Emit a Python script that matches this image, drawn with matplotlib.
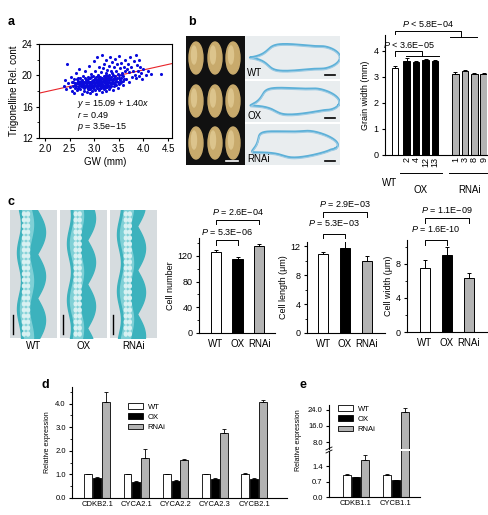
import numpy as np
import matplotlib
matplotlib.use('Agg')
import matplotlib.pyplot as plt
from matplotlib.patches import Ellipse, Rectangle, Patch

plt.rcParams['font.family'] = ['Liberation Sans', 'DejaVu Sans']
plt.rcParams['mathtext.fontset'] = 'custom'
plt.rcParams['mathtext.rm'] = 'Liberation Sans'
plt.rcParams['mathtext.it'] = 'Liberation Sans:italic'
plt.rcParams['font.size'] = 6.5
plt.rcParams['axes.linewidth'] = 0.8
plt.rcParams['xtick.major.width'] = 0.8
plt.rcParams['ytick.major.width'] = 0.8
plt.rcParams['xtick.major.size'] = 2.5
plt.rcParams['ytick.major.size'] = 2.5
plt.rcParams['ytick.minor.size'] = 1.5
plt.rcParams['xtick.major.pad'] = 2
plt.rcParams['ytick.major.pad'] = 2

# ---------------- data ----------------
# a: GW vs trigonelline
gw_mm = [2.38, 2.40, 2.42, 2.45, 2.47, 2.50, 2.52, 2.55, 2.56, 2.58,
         2.60, 2.60, 2.62, 2.63, 2.65, 2.66, 2.68, 2.70, 2.70, 2.72,
         2.73, 2.75, 2.75, 2.77, 2.78, 2.80, 2.80, 2.82, 2.83, 2.84,
         2.85, 2.86, 2.87, 2.88, 2.89, 2.90, 2.90, 2.91, 2.92, 2.93,
         2.94, 2.95, 2.95, 2.96, 2.97, 2.98, 2.99, 3.00, 3.00, 3.01,
         3.02, 3.03, 3.04, 3.05, 3.05, 3.06, 3.07, 3.08, 3.09, 3.10,
         3.10, 3.11, 3.12, 3.13, 3.14, 3.15, 3.15, 3.16, 3.17, 3.18,
         3.19, 3.20, 3.20, 3.21, 3.22, 3.23, 3.24, 3.25, 3.25, 3.26,
         3.27, 3.28, 3.29, 3.30, 3.30, 3.31, 3.32, 3.33, 3.34, 3.35,
         3.35, 3.36, 3.37, 3.38, 3.39, 3.40, 3.40, 3.42, 3.43, 3.44,
         3.45, 3.46, 3.48, 3.49, 3.50, 3.50, 3.52, 3.53, 3.55, 3.56,
         3.58, 3.59, 3.60, 3.62, 3.63, 3.65, 3.66, 3.68, 3.70, 3.71,
         3.73, 3.75, 3.76, 3.78, 3.80, 3.82, 3.84, 3.85, 3.87, 3.88,
         3.90, 3.92, 3.94, 3.96, 3.98, 4.00, 4.05, 4.10, 4.15, 4.36,
         2.62, 2.64, 2.67, 2.69, 2.71, 2.74, 2.76, 2.79, 2.81, 2.82,
         2.84, 2.86, 2.87, 2.88, 2.90, 2.92, 2.93, 2.94, 2.96, 2.97,
         2.98, 3.00, 3.01, 3.02, 3.03, 3.04, 3.06, 3.07, 3.08, 3.09,
         3.10, 3.11, 3.12, 3.13, 3.14, 3.16, 3.17, 3.18, 3.19, 3.21,
         3.22, 3.23, 3.24, 3.26, 3.27, 3.28, 3.30, 3.31, 3.32, 3.34,
         3.36, 3.37, 3.38, 3.40, 3.41, 3.43, 3.45, 3.47, 3.50, 3.52,
         3.55, 3.57, 3.60,
         2.58, 2.61, 2.65, 2.68, 2.72, 2.73, 2.77, 2.78, 2.80, 2.83,
         2.85, 2.89, 2.91, 2.92, 2.95, 2.97, 2.99, 3.00, 3.02, 3.04,
         3.05, 3.06, 3.08, 3.09, 3.11, 3.12, 3.13, 3.15, 3.16, 3.18,
         3.20, 3.21, 3.23, 3.24, 3.25, 3.27, 3.29, 3.31, 3.33, 3.35,
         3.38, 3.42, 3.44, 3.48, 3.51, 3.54, 3.58]
trig_cont = [18.6, 19.4, 18.2, 21.5, 19.0, 18.5, 19.8, 18.0, 19.2, 18.7,
             19.5, 17.8, 18.4, 20.3, 19.0, 18.1, 19.7, 18.6, 20.8, 18.3,
             19.3, 17.6, 18.9, 19.9, 18.5, 19.1, 18.0, 20.5, 18.7, 19.4,
             17.9, 18.8, 19.8, 18.4, 21.2, 19.0, 18.2, 19.6, 17.7, 18.9,
             20.2, 18.5, 19.3, 18.0, 19.9, 18.7, 21.8, 19.1, 18.3, 20.6,
             18.8, 19.5, 17.6, 19.0, 22.3, 18.4, 20.0, 18.9, 19.7, 18.1,
             21.0, 19.3, 18.6, 20.4, 19.0, 17.9, 22.6, 19.6, 18.5, 20.9,
             19.2, 18.2, 21.5, 19.8, 18.8, 20.3, 19.4, 18.0, 22.0, 19.1,
             20.7, 18.6, 19.7, 21.2, 18.3, 20.1, 19.0, 22.4, 19.5, 18.7,
             20.6, 21.7, 19.2, 18.1, 20.0, 21.0, 19.6, 22.1, 18.9, 20.5,
             19.3, 21.4, 18.4, 20.2, 19.7, 22.5, 20.9, 19.0, 21.6, 20.3,
             18.8, 19.9, 21.1, 20.6, 22.0, 19.5, 20.8, 21.5, 19.2, 20.4,
             22.3, 21.0, 19.8, 20.6, 21.8, 20.1, 22.6, 19.6, 21.3, 20.5,
             22.0, 19.9, 21.0, 20.3, 19.5, 20.8, 20.0, 20.6, 20.2, 20.2,
             19.0, 18.6, 19.3, 18.9, 19.1, 18.7, 19.4, 18.8, 19.6, 18.5,
             19.0, 19.3, 18.3, 19.5, 18.7, 19.2, 18.5, 19.8, 19.0, 18.4,
             19.4, 18.8, 19.6, 18.1, 19.2, 18.6, 19.4, 18.9, 19.9, 18.3,
             19.5, 18.8, 19.1, 18.4, 19.7, 18.9, 19.3, 18.6, 19.9, 19.0,
             18.4, 19.6, 18.9, 19.4, 18.5, 19.9, 19.2, 18.7, 19.6, 18.9,
             19.4, 20.3, 19.0, 18.6, 19.5, 19.9, 18.8, 19.6, 18.9, 19.4,
             19.2, 20.0, 19.5,
             19.1, 18.8, 19.5, 18.4, 19.6, 18.9, 18.6, 19.2, 18.4, 19.2,
             18.6, 19.1, 18.9, 18.3, 18.8, 19.3, 18.6, 19.4, 19.0, 19.8,
             18.5, 18.7, 19.3, 19.0, 18.6, 19.8, 19.3, 18.8, 19.1, 19.5,
             18.7, 19.4, 18.8, 20.0, 19.3, 19.0, 18.8, 19.4, 18.5, 19.8,
             19.4, 19.1, 19.5, 19.2, 20.1, 19.6, 19.3]
fit_a, fit_b = 15.09, 1.40

# b: grain width
gw_labels = ['WT', '2', '4', '12', '13', '1', '3', '8', '9']
gw_pos = [0, 1.25, 2.25, 3.25, 4.25, 6.4, 7.4, 8.4, 9.4]
gw_vals = [3.32, 3.62, 3.55, 3.63, 3.60, 3.12, 3.22, 3.10, 3.12]
gw_err = [0.08, 0.10, 0.04, 0.04, 0.05, 0.07, 0.04, 0.05, 0.03]
gw_cols = ['white', 'black', 'black', 'black', 'black',
           '#b3b3b3', '#b3b3b3', '#b3b3b3', '#b3b3b3']

# c: cell measurements (WT, OX, RNAi)
lines = ['WT', 'OX', 'RNAi']
line_cols = ['white', 'black', '#b3b3b3']
cell_number = [126, 116, 135]
cell_number_err = [3, 3, 4]
cell_length = [10.9, 11.8, 10.0]
cell_length_err = [0.3, 0.9, 0.7]
cell_width = [7.5, 9.0, 6.3]
cell_width_err = [0.9, 1.0, 0.6]

# d: relative expression
genes_d = ['CDKB2.1', 'CYCA2.1', 'CYCA2.2', 'CYCA2.3', 'CYCB2.1']
d_wt = [1.0, 1.0, 1.0, 1.0, 1.0]
d_wt_err = [0.03, 0.03, 0.02, 0.03, 0.06]
d_ox = [0.85, 0.67, 0.74, 0.80, 0.82]
d_ox_err = [0.03, 0.04, 0.03, 0.03, 0.03]
d_rnai = [4.05, 1.70, 1.60, 2.75, 4.07]
d_rnai_err = [0.45, 0.38, 0.07, 0.18, 0.06]

# e: relative expression (broken axis)
genes_e = ['CDKB1.1', 'CYCB1.1']
e_wt = [1.0, 1.0]
e_wt_err = [0.05, 0.04]
e_ox = [0.90, 0.76]
e_ox_err = [0.03, 0.03]
e_rnai = [1.68, 23.0]
e_rnai_err = [0.22, 1.8]

# ---------------- figure ----------------
W, H = 488, 515
fig = plt.figure(figsize=(W / 100, H / 100), dpi=100)


def px_axes(x0, y0, x1, y1):
    return fig.add_axes([x0 / W, 1 - y1 / H, (x1 - x0) / W, (y1 - y0) / H])


def bar_style(ax):
    ax.spines['top'].set_visible(False)
    ax.spines['right'].set_visible(False)
    ax.tick_params(axis='x', length=0)


def bracket(ax, x0, x1, y, d0, d1, label, ty, fs=6.5):
    ax.plot([x0, x0, x1, x1], [d0, y, y, d1], color='k', lw=0.7, clip_on=False)
    ax.text((x0 + x1) / 2, ty, label, ha='center', va='center', fontsize=fs, clip_on=False)


def panel_label(x, y, s):
    fig.text(x / W, 1 - y / H, s, fontsize=9, fontweight='bold', ha='left', va='center')


panel_label(8, 22, 'a')
panel_label(188, 22, 'b')
panel_label(8, 202, 'c')
panel_label(42, 385, 'd')
panel_label(300, 385, 'e')

# ---- a: scatter ----
ax = px_axes(39, 44, 172, 138)
ax.scatter(gw_mm, trig_cont, s=5, color='#0b0bdc', lw=0, zorder=3)
xs = np.array([1.88, 4.58])
ax.plot(xs, fit_a + fit_b * xs, color='#e8242a', lw=0.8, zorder=2)
ax.set_xlim(1.88, 4.58)
ax.set_ylim(12, 24)
ax.set_xticks([2.0, 2.5, 3.0, 3.5, 4.0, 4.5])
ax.set_xticklabels(['2.0', '2.5', '3.0', '3.5', '4.0', '4.5'])
ax.set_yticks([12, 16, 20, 24])
ax.set_yticks([14, 18, 22], minor=True)
ax.tick_params(labelsize=7)
ax.set_xlabel('GW (mm)', fontsize=7, labelpad=2)
ax.set_ylabel('Trigonelline Rel. cont', fontsize=7, labelpad=2)
ax.text(2.65, 16.4, r'$y$ = 15.09 + 1.40$x$', fontsize=6.5, va='center')
ax.text(2.65, 14.9, r'$r$ = 0.49', fontsize=6.5, va='center')
ax.text(2.65, 13.4, '$p$ = 3.5e\u221215', fontsize=6.5, va='center')

# ---- b: grain photo (drawn sketch) ----
axp = px_axes(186, 36, 245, 165)
axp.set_facecolor('#111111')
axp.set_xlim(0, 59)
axp.set_ylim(129, 0)
axp.set_xticks([])
axp.set_yticks([])
for s in axp.spines.values():
    s.set_visible(False)
for cy in [22, 65, 107]:
    for cx in [10, 29, 47]:
        axp.add_patch(Ellipse((cx, cy), 14, 32, color='#c8aa6c'))
        axp.add_patch(Ellipse((cx - 2, cy - 3), 5, 18, color='#dcc48c'))
axp.plot([40, 52], [125, 125], color='white', lw=1.2)

sec_rows = [(36, 79, 'WT'), (81, 122, 'OX'), (124, 165, 'RNAi')]
t = np.linspace(0, 2 * np.pi, 200)
for k, (y0, y1, lab) in enumerate(sec_rows):
    axs = px_axes(245, y0, 340, y1)
    axs.set_facecolor('#e9edef')
    axs.set_xlim(0, 95)
    axs.set_ylim(y1 - y0, 0)
    axs.set_xticks([])
    axs.set_yticks([])
    for s in axs.spines.values():
        s.set_visible(False)
    xx = 50 + 42 * np.cos(t) + 3 * np.cos(5 * t + k)
    yy = (y1 - y0) / 2 + 13 * np.sin(t) + 4 * np.sin(3 * t + k) * np.cos(t)
    axs.plot(xx, yy, color='#5cb0d8', lw=1.6)
    axs.plot(xx, yy + 1.2, color='#9ccbe4', lw=0.8)
    axs.text(2, (y1 - y0) - 6, lab, fontsize=7, ha='left', va='center')
    axs.plot([80, 90], [(y1 - y0) - 4, (y1 - y0) - 4], color='k', lw=1.2)

# ---- b: grain width bars ----
ax = px_axes(385, 35, 487, 155)
bar_style(ax)
ax.bar(gw_pos, gw_vals, width=0.7, color=gw_cols, edgecolor='k', lw=0.7)
ax.errorbar(gw_pos, gw_vals, yerr=[np.zeros(len(gw_err)), gw_err], fmt='none',
            ecolor='k', elinewidth=0.7, capsize=1.5, capthick=0.7)
ax.set_xlim(-1.05, 9.75)
ax.set_ylim(0, 4.6)
ax.set_yticks([0, 1, 2, 3, 4])
ax.set_xticks(gw_pos[1:])
ax.set_xticklabels(gw_labels[1:], rotation=90, fontsize=6.5)
ax.tick_params(axis='x', pad=1.5)
ax.tick_params(axis='y', labelsize=6.5)
ax.set_ylabel('Grain width (mm)', fontsize=6.5, labelpad=3)
tr = ax.get_xaxis_transform()
ax.text(-0.6, -0.23, 'WT', transform=tr, fontsize=7, ha='center', va='center')
ax.plot([0.55, 4.95], [-0.15, -0.15], color='k', lw=0.7, transform=tr, clip_on=False)
ax.plot([5.7, 9.75], [-0.15, -0.15], color='k', lw=0.7, transform=tr, clip_on=False)
ax.text(2.75, -0.29, 'OX', transform=tr, fontsize=7, ha='center', va='center')
ax.text(7.9, -0.29, 'RNAi', transform=tr, fontsize=7, ha='center', va='center')
bracket(ax, 0, 2.9, 3.99, 3.80, 3.80, '$P$ < 3.6E\u221205', 4.22)
ax.plot([1.2, 4.7], [3.80, 3.80], color='k', lw=0.7, clip_on=False)
bracket(ax, 0, 7.0, 4.77, 4.62, 4.53, '$P$ < 5.8E\u221204', 5.03)
ax.plot([5.8, 8.7], [4.53, 4.53], color='k', lw=0.7, clip_on=False)

# ---- c: section photos (drawn sketch) ----
yy = np.linspace(0, 128, 300)
for k, (x0, lab) in enumerate([(10, 'WT'), (60, 'OX'), (110, 'RNAi')]):
    axc = px_axes(x0, 210, x0 + 47, 338)
    axc.set_facecolor('#d6dcdf')
    axc.set_xlim(0, 47)
    axc.set_ylim(128, 0)
    axc.set_xticks([])
    axc.set_yticks([])
    for s in axc.spines.values():
        s.set_visible(False)
    left = 9 + 2 * np.sin(yy / 9 + k)
    right = 27 + 8 * np.abs(np.sin(yy / 14 + k))
    axc.fill_betweenx(yy, left, right, color='#3cb2bd')
    axc.fill_betweenx(yy, left + 3, left + 12, color='#7fd0d6')
    for cy in range(4, 128, 6):
        for cx in (left[0] + 5, left[0] + 9):
            axc.add_patch(Ellipse((cx, cy), 3, 4, color='#d8f1f2'))
    axc.plot([3, 3], [105, 124], color='k', lw=1.0)
    fig.text((x0 + 23.5) / W, 1 - 346 / H, lab, fontsize=7, ha='center', va='center')

# ---- c: bar charts ----
pos3 = [0, 1, 2]


def cell_bars(box, vals, errs, ylim, major, minor, ylab, xlim):
    ax = px_axes(*box)
    bar_style(ax)
    ax.bar(pos3, vals, width=0.47, color=line_cols, edgecolor='k', lw=0.7)
    ax.errorbar(pos3, vals, yerr=[np.zeros(3), errs], fmt='none', ecolor='k',
                elinewidth=0.7, capsize=1.5, capthick=0.7)
    ax.set_xlim(*xlim)
    ax.set_ylim(*ylim)
    ax.set_yticks(major)
    ax.set_yticks(minor, minor=True)
    ax.set_xticks(pos3)
    ax.set_xticklabels(lines, fontsize=7)
    ax.tick_params(axis='y', labelsize=6.5)
    ax.tick_params(axis='x', pad=4)
    ax.set_ylabel(ylab, fontsize=6.5, labelpad=2)
    return ax


ax = cell_bars((199, 238, 275, 333), cell_number, cell_number_err, (0, 148),
               [0, 40, 80, 120], [20, 60, 100, 140], 'Cell number', (-0.79, 2.74))
bracket(ax, 0, 1, 145, 137, 137, '$P$ = 5.3E\u221206', 157)
bracket(ax, 0, 2, 176, 170, 170, '$P$ = 2.6E\u221204', 188)

ax = cell_bars((307, 242, 385, 333), cell_length, cell_length_err, (0, 12.6),
               [0, 4, 8, 12], [2, 6, 10], 'Cell length (\u03bcm)', (-0.73, 2.82))
bracket(ax, 0, 1, 13.66, 13.1, 13.1, '$P$ = 5.3E\u221203', 15.2)
bracket(ax, 0, 2, 16.7, 16.1, 16.1, '$P$ = 2.9E\u221203', 17.8)

ax = cell_bars((407, 240, 488, 332), cell_width, cell_width_err, (0, 10.8),
               [0, 4, 8], [2, 6, 10], 'Cell width (\u03bcm)', (-0.82, 2.87))
bracket(ax, 0, 1, 10.8, 10.2, 10.2, '$P$ = 1.6E-10', 12.1)
bracket(ax, 0, 2, 13.4, 12.8, 12.8, '$P$ = 1.1E\u221209', 14.3)

# ---- d ----
ax = px_axes(72, 387, 287, 498)
bar_style(ax)
gx = np.arange(len(genes_d))
off, bw = 0.225, 0.2
for vals, errs, col, dx in [(d_wt, d_wt_err, 'white', -off), (d_ox, d_ox_err, 'black', 0),
                            (d_rnai, d_rnai_err, '#b3b3b3', off)]:
    ax.bar(gx + dx, vals, width=bw, color=col, edgecolor='k', lw=0.6)
    ax.errorbar(gx + dx, vals, yerr=[np.zeros(len(errs)), errs], fmt='none', ecolor='k',
                elinewidth=0.6, capsize=1.2, capthick=0.6)
ax.set_xlim(-0.64, 4.84)
ax.set_ylim(0, 4.7)
ax.set_yticks([0, 1, 2, 3, 4])
ax.set_yticklabels(['0.0', '1.0', '2.0', '3.0', '4.0'])
ax.set_yticks([0.5, 1.5, 2.5, 3.5, 4.5], minor=True)
ax.set_xticks(gx)
ax.set_xticklabels(genes_d, fontsize=5.5)
ax.tick_params(axis='y', labelsize=5.5)
ax.set_ylabel('Relative expression', fontsize=5, labelpad=3)
leg_h = [Patch(facecolor=c, edgecolor='k', lw=0.6) for c in line_cols]
ax.legend(leg_h, lines, loc='upper left', bbox_to_anchor=(128 / W, 1 - 403 / H),
          bbox_transform=fig.transFigure, frameon=False, fontsize=5.5, handlelength=2.0,
          handleheight=0.8, labelspacing=0.35, handletextpad=0.6, borderpad=0,
          borderaxespad=0)

# ---- e (broken y axis) ----
ax_hi = px_axes(329, 405, 420, 449)
ax_lo = px_axes(329, 451, 420, 497)
gx = np.arange(len(genes_e))
for a_ in (ax_hi, ax_lo):
    bar_style(a_)
    for vals, errs, col, dx in [(e_wt, e_wt_err, 'white', -off), (e_ox, e_ox_err, 'black', 0),
                                (e_rnai, e_rnai_err, '#b3b3b3', off)]:
        a_.bar(gx + dx, vals, width=bw, color=col, edgecolor='k', lw=0.6)
        a_.errorbar(gx + dx, vals, yerr=[np.zeros(len(errs)), errs], fmt='none',
                    ecolor='k', elinewidth=0.6, capsize=1.2, capthick=0.6)
    a_.set_xlim(-0.675, 1.6)
    a_.tick_params(axis='y', labelsize=5.5)
ax_hi.spines['bottom'].set_visible(False)
ax_hi.set_xticks([])
ax_hi.set_ylim(4.6, 26.4)
ax_hi.set_yticks([8, 16, 24])
ax_hi.set_yticklabels(['8.0', '16.0', '24.0'])
ax_lo.set_ylim(0, 2.1)
ax_lo.set_yticks([0, 0.7, 1.4])
ax_lo.set_yticklabels(['0.0', '0.7', '1.4'])
ax_lo.set_xticks(gx)
ax_lo.set_xticklabels(genes_e, fontsize=5.5)
for yb in (448.5, 451.5):
    fig.add_artist(plt.Line2D([326 / W, 332 / W], [1 - (yb + 1.5) / H, 1 - (yb - 1.5) / H],
                              color='k', lw=0.6))
fig.text(299 / W, 1 - 440 / H, 'Relative expression', fontsize=5, rotation=90,
         ha='center', va='center')
ax_hi.legend(leg_h, lines, loc='upper left', bbox_to_anchor=(338 / W, 1 - 405 / H),
             bbox_transform=fig.transFigure, frameon=False, fontsize=5.5, handlelength=2.0,
             handleheight=0.8, labelspacing=0.35, handletextpad=0.6, borderpad=0,
             borderaxespad=0)

plt.savefig('out.png', dpi=100)
